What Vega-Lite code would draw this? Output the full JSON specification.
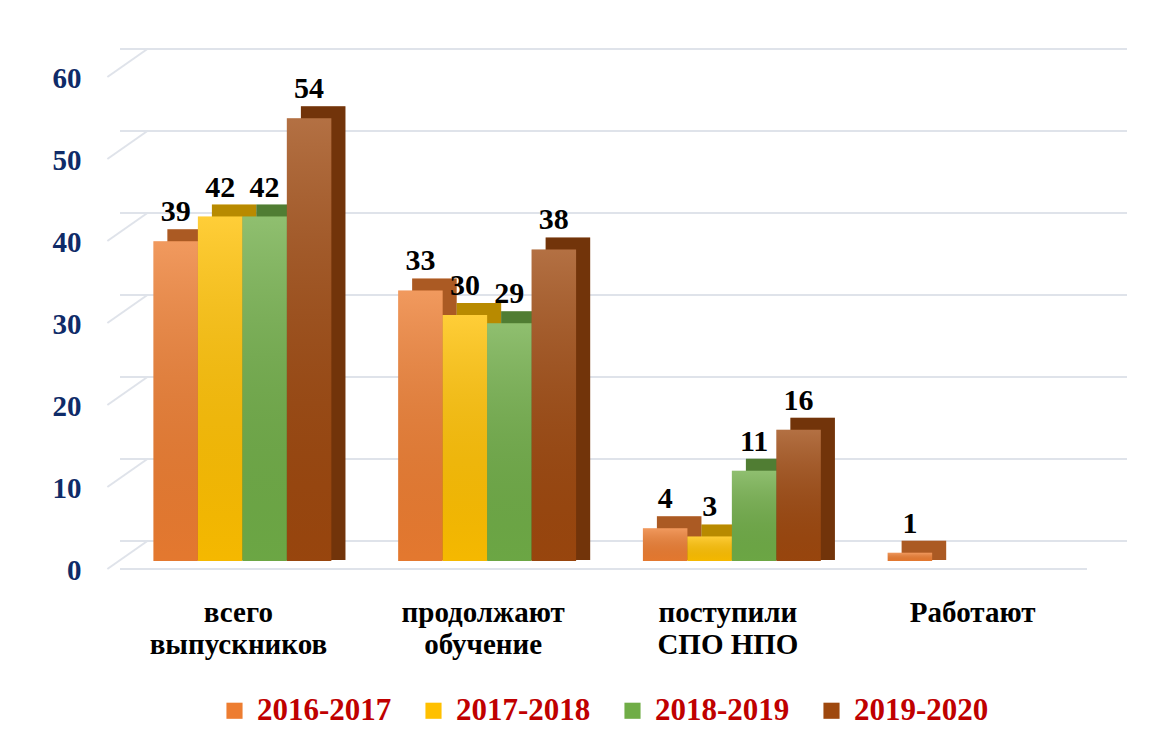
{
  "$schema": "https://vega.github.io/schema/vega-lite/v6.json",
  "width": 979,
  "height": 492,
  "autosize": "none",
  "padding": {"left": 120, "top": 69, "right": 61, "bottom": 185},
  "background": "white",
  "config": {"view": {"stroke": null}},
  "datasets": {
    "bars": [
      {"cat": "всего выпускников", "year": "2016-2017", "v": 39},
      {"cat": "всего выпускников", "year": "2017-2018", "v": 42},
      {"cat": "всего выпускников", "year": "2018-2019", "v": 42},
      {"cat": "всего выпускников", "year": "2019-2020", "v": 54},
      {"cat": "продолжают обучение", "year": "2016-2017", "v": 33},
      {"cat": "продолжают обучение", "year": "2017-2018", "v": 30},
      {"cat": "продолжают обучение", "year": "2018-2019", "v": 29},
      {"cat": "продолжают обучение", "year": "2019-2020", "v": 38},
      {"cat": "поступили СПО НПО", "year": "2016-2017", "v": 4},
      {"cat": "поступили СПО НПО", "year": "2017-2018", "v": 3},
      {"cat": "поступили СПО НПО", "year": "2018-2019", "v": 11},
      {"cat": "поступили СПО НПО", "year": "2019-2020", "v": 16},
      {"cat": "Работают", "year": "2016-2017", "v": 1}
    ],
    "grid": [{"t": 0}, {"t": 10}, {"t": 20}, {"t": 30}, {"t": 40}, {"t": 50}, {"t": 60}]
  },
  "resolve": {"scale": {"xOffset": "independent"}},
  "layer": [
    {
      "data": {"name": "grid"},
      "mark": {"type": "rule", "color": "#dfe3ea", "strokeWidth": 2, "yOffset": -20, "xOffset": 28},
      "encoding": {
        "y": {"field": "t", "type": "quantitative", "scale": {"domain": [0, 60]},
              "axis": {"values": [0,10,20,30,40,50,60], "grid": false, "domain": false, "ticks": false, "tickSize": 0,
                       "labelPadding": 39, "labelOffset": 9, "labelFont": "Liberation Serif", "labelFontWeight": "bold",
                       "labelFontSize": 29, "labelColor": "#0f2b68", "title": null}}
      }
    },
    {
      "data": {"name": "grid"},
      "mark": {"type": "rule", "color": "#dfe3ea", "strokeWidth": 2, "xOffset": -135, "x2Offset": -95, "yOffset": 8, "y2Offset": -20},
      "encoding": {
        "x": {"datum": "всего выпускников"},
        "x2": {"datum": "всего выпускников"},
        "y": {"field": "t", "type": "quantitative"},
        "y2": {"field": "t"}
      }
    },
    {
      "data": {"name": "grid"},
      "transform": [{"filter": "datum.t == 0"}],
      "mark": {"type": "rule", "color": "#dfe3ea", "strokeWidth": 2, "yOffset": 8, "xOffset": -12},
      "encoding": {
        "y": {"field": "t", "type": "quantitative"}
      }
    },
    {
      "data": {"name": "bars"},
      "mark": {"type": "bar", "yOffset": -12, "y2Offset": -1},
      "encoding": {
        "x": {"field": "cat", "type": "nominal", "sort": null,
              "scale": {"paddingInner": 0.273, "paddingOuter": 0.1365},
              "axis": {"title": null, "domain": false, "ticks": false, "tickSize": 0, "labelAngle": 0, "labelAlign": "center",
                       "labelPadding": 37, "labelOffset": -4, "labelFont": "Liberation Serif", "labelFontWeight": "bold",
                       "labelFontSize": 29, "labelColor": "#000000", "labelLineHeight": 32, "labelBaseline": "top",
                       "labelExpr": "datum.value == 'поступили СПО НПО' ? ['поступили', 'СПО НПО'] : split(datum.value, ' ')"}},
        "xOffset": {"field": "year", "type": "nominal", "scale": {"range": [14, 192]}},
        "y": {"field": "v", "type": "quantitative"},
        "y2": {"datum": 0},
        "color": {"field": "year", "type": "nominal",
                  "scale": {"domain": ["2016-2017", "2017-2018", "2018-2019", "2019-2020"],
                            "range": ["#ED7D31", "#FFC000", "#70AD47", "#9E480E"]},
                  "legend": {"title": null, "orient": "none", "legendX": 99, "legendY": 626, "direction": "horizontal",
                             "symbolType": "square", "symbolSize": 260, "symbolStrokeWidth": 0,
                             "labelFont": "Liberation Serif", "labelFontWeight": "bold", "labelFontSize": 31,
                             "labelColor": "#c00000", "columnPadding": 26, "labelOffset": 7}}
      }
    },
    {
      "data": {"name": "bars"},
      "mark": {"type": "bar", "color": "#000000", "opacity": 0.28, "yOffset": -12, "y2Offset": -1},
      "encoding": {
        "x": {"field": "cat", "type": "nominal", "sort": null},
        "xOffset": {"field": "year", "type": "nominal", "scale": {"range": [14, 192]}},
        "y": {"field": "v", "type": "quantitative"},
        "y2": {"datum": 0}
      }
    },
    {
      "data": {"name": "bars"},
      "mark": {"type": "bar"},
      "encoding": {
        "x": {"field": "cat", "type": "nominal", "sort": null},
        "xOffset": {"field": "year", "type": "nominal"},
        "y": {"field": "v", "type": "quantitative"},
        "color": {"field": "year", "type": "nominal"}
      }
    },
    {
      "data": {"name": "bars"},
      "mark": {"type": "bar",
               "color": {"gradient": "linear", "x1": 0, "y1": 0, "x2": 0, "y2": 1,
                         "stops": [{"offset": 0, "color": "rgba(255,255,255,0.22)"},
                                   {"offset": 1, "color": "rgba(0,0,0,0.04)"}]}},
      "encoding": {
        "x": {"field": "cat", "type": "nominal", "sort": null},
        "xOffset": {"field": "year", "type": "nominal"},
        "y": {"field": "v", "type": "quantitative"}
      }
    },
    {
      "data": {"name": "bars"},
      "mark": {"type": "text", "font": "Liberation Serif", "fontWeight": "bold", "fontSize": 30, "color": "#000000",
               "baseline": "alphabetic", "dy": -20},
      "encoding": {
        "x": {"field": "cat", "type": "nominal", "sort": null},
        "xOffset": {"field": "year", "type": "nominal"},
        "y": {"field": "v", "type": "quantitative"},
        "text": {"field": "v", "type": "quantitative"}
      }
    }
  ]
}
